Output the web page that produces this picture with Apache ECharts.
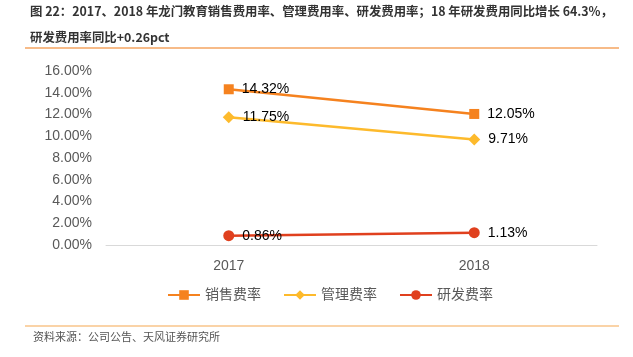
<!DOCTYPE html>
<html><head><meta charset="utf-8">
<script src="https://cdn.jsdelivr.net/npm/echarts@6/dist/echarts.min.js"></script>
<style>html,body{margin:0;padding:0;background:#fff}#c{width:633px;height:357px}</style>
</head><body><div id="c"></div>
<script>
const categories = ['2017', '2018'];
const salesRate = [14.32, 12.05];
const mgmtRate = [11.75, 9.71];
const rdRate = [0.86, 1.13];
const seriesNames = ['销售费率', '管理费率', '研发费率'];
const yTicks = { min: 0, max: 16, interval: 2 };

const FONT = '"Liberation Sans", "Noto Sans CJK SC", sans-serif';
const chart = echarts.init(document.getElementById('c'));
const lbl = {
  show: true, position: 'right', distance: 8, color: '#000', fontSize: 14, fontFamily: FONT,
  formatter: p => p.value.toFixed(2) + '%'
};
chart.setOption({
  animation: false,
  textStyle: { fontFamily: FONT },
  title: {
    text: '图 22：2017、2018 年龙门教育销售费用率、管理费用率、研发费用率；18 年研发费用同比增长 64.3%，\n研发费用率同比+0.26pct',
    left: 25, top: -7,
    textStyle: { fontSize: 12.4, fontWeight: 'bold', color: '#333', lineHeight: 26, fontFamily: '"Noto Sans CJK SC", sans-serif' }
  },
  graphic: [
    { type: 'line', shape: { x1: 25, y1: 48, x2: 619, y2: 48 }, style: { stroke: '#F4A460', lineWidth: 1.5 } },
    { type: 'line', shape: { x1: 25, y1: 326, x2: 619, y2: 326 }, style: { stroke: '#F8C58A', lineWidth: 1.5 } },
    { type: 'text', left: 33, top: 331, style: { text: '资料来源：公司公告、天风证券研究所', fontSize: 11, fill: '#555', fontFamily: '"Noto Sans CJK SC", sans-serif' } }
  ],
  grid: { left: 106, right: 36, top: 71, bottom: 112 },
  legend: {
    bottom: 50, left: 162, itemGap: 22, itemWidth: 32, itemHeight: 12,
    textStyle: { fontSize: 14, color: '#595959' },
    data: seriesNames
  },
  xAxis: {
    type: 'category', data: categories, boundaryGap: true,
    axisLine: { lineStyle: { color: '#D9D9D9' } }, axisTick: { show: false },
    axisLabel: { fontSize: 14, color: '#595959', margin: 14 }
  },
  yAxis: {
    type: 'value', min: yTicks.min, max: yTicks.max, interval: yTicks.interval,
    splitLine: { show: false }, axisLine: { show: false }, axisTick: { show: false },
    axisLabel: { fontSize: 14, color: '#595959', margin: 14, formatter: v => v.toFixed(2) + '%' }
  },
  series: [
    { name: seriesNames[0], type: 'line', data: salesRate, symbol: 'rect', symbolSize: 10,
      itemStyle: { color: '#F5821F' }, lineStyle: { color: '#F5821F', width: 2.5 }, label: lbl },
    { name: seriesNames[1], type: 'line', data: mgmtRate, symbol: 'diamond', symbolSize: 12,
      itemStyle: { color: '#FDBA2C' }, lineStyle: { color: '#FDBA2C', width: 2.5 }, label: lbl },
    { name: seriesNames[2], type: 'line', data: rdRate, symbol: 'circle', symbolSize: 11,
      itemStyle: { color: '#E0401E' }, lineStyle: { color: '#E0401E', width: 2.5 }, label: lbl }
  ]
});
</script></body></html>
